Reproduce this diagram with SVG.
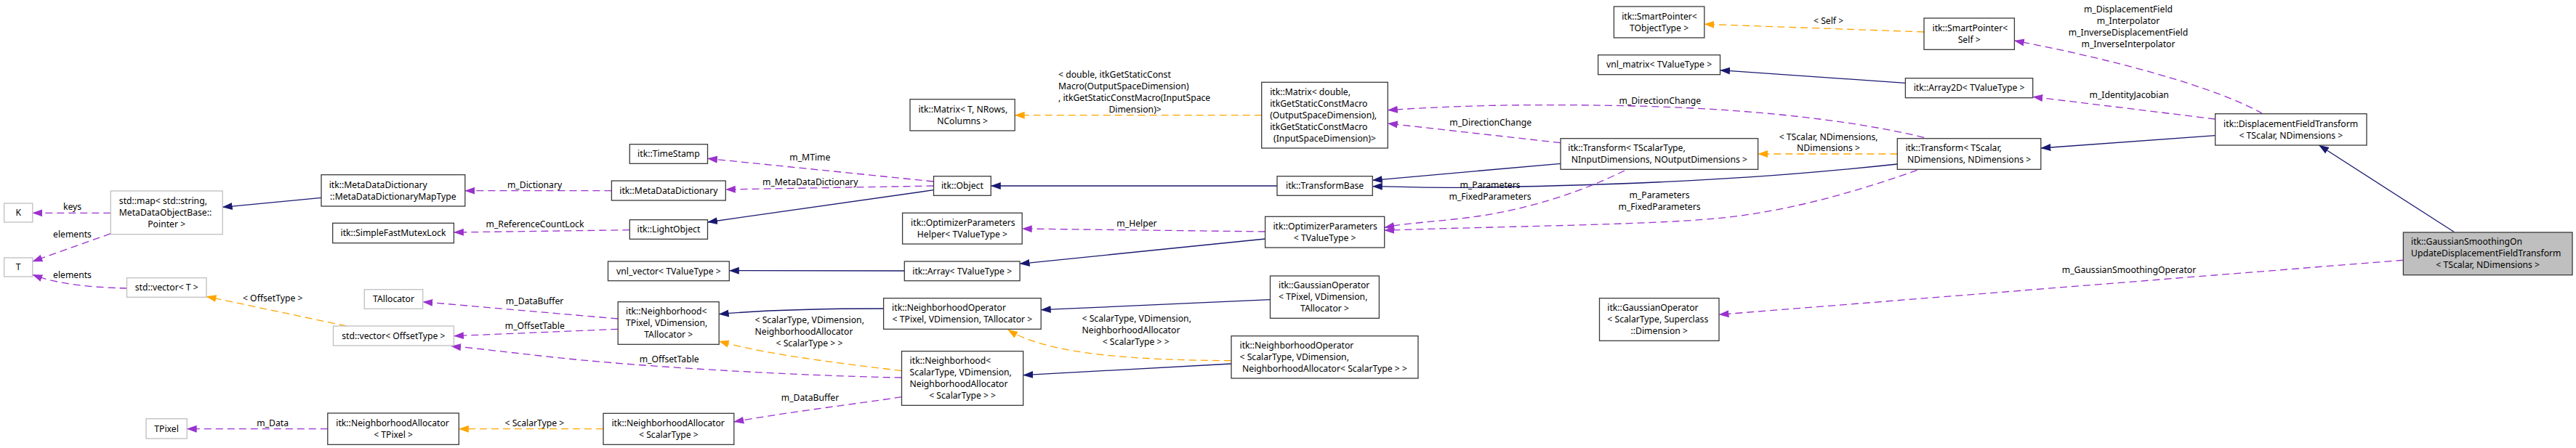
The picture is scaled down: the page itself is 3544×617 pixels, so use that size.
<svg xmlns="http://www.w3.org/2000/svg" width="3544" height="617" viewBox="0 0 3544 617">
<style>
text{font-family:"Noto Sans","Open Sans","DejaVu Sans",sans-serif;font-size:12.2px;fill:#000}
.m{text-anchor:middle}
rect.n{fill:#fff;stroke:#3a3a3a;stroke-width:1.3}
rect.g{fill:#fff;stroke:#bfbfbf;stroke-width:1.3}
rect.main{fill:#bfbfbf;stroke:#3a3a3a;stroke-width:1.3}
path{fill:none;stroke-width:1.3}
.nv{stroke:#191970;marker-end:url(#an)}
.pu{stroke:#9a32cd;stroke-dasharray:10,6;marker-end:url(#ap)}
.or{stroke:#ffa500;stroke-dasharray:10,6;marker-end:url(#ao)}
</style>
<defs>
<marker id="an" markerUnits="userSpaceOnUse" markerWidth="14" markerHeight="11" viewBox="0 0 14 11" refX="13.5" refY="5.5" orient="auto"><path d="M0,0.5 L14,5.5 L0,10.5 z" style="fill:#191970;stroke:none"/></marker>
<marker id="ap" markerUnits="userSpaceOnUse" markerWidth="14" markerHeight="11" viewBox="0 0 14 11" refX="13.5" refY="5.5" orient="auto"><path d="M0,0.5 L14,5.5 L0,10.5 z" style="fill:#9a32cd;stroke:none"/></marker>
<marker id="ao" markerUnits="userSpaceOnUse" markerWidth="14" markerHeight="11" viewBox="0 0 14 11" refX="13.5" refY="5.5" orient="auto"><path d="M0,0.5 L14,5.5 L0,10.5 z" style="fill:#ffa500;stroke:none"/></marker>
</defs>
<rect width="3544" height="617" fill="#fff"/>

<g id="edges">
<path class="nv" d="M442,272.3 L306.2,285.3"/>
<path class="pu" d="M152.3,293.3 L44.8,293.3"/>
<text class="m" x="99.5" y="289.3">keys</text>
<path class="pu" d="M152.3,321.7 L44.8,360"/>
<text class="m" x="99.5" y="327">elements</text>
<path class="pu" d="M174.5,397 C130,396 80,392 44.8,378.3"/>
<text class="m" x="99.5" y="383">elements</text>
<path class="or" d="M476.5,449 L284,408.3"/>
<text class="m" x="375.2" y="415">&lt; OffsetType &gt;</text>
<path class="pu" d="M841.4,262.7 L639.8,262.7"/>
<text class="m" x="735.6" y="259.3">m_Dictionary</text>
<path class="pu" d="M866.3,316.7 L624.4,320"/>
<text class="m" x="736" y="312.6">m_ReferenceCountLock</text>
<path class="pu" d="M850.2,439 L581.7,415.7"/>
<text class="m" x="735.6" y="419.3">m_DataBuffer</text>
<path class="pu" d="M850.2,453.3 L624.4,462.7"/>
<text class="m" x="735.8" y="453.3">m_OffsetTable</text>
<path class="pu" d="M1240.5,520 C1150,519 900,508 743,490 S650,480 620.6,476.7"/>
<text class="m" x="920.7" y="498.6">m_OffsetTable</text>
<path class="or" d="M1240.5,510.7 C1180,503 1060,490 989.2,470"/>
<text x="1038.5" y="445">&lt; ScalarType, VDimension,</text>
<text x="1038.5" y="461">NeighborhoodAllocator</text>
<text class="m" x="1113.5" y="477">&lt; ScalarType &gt; &gt;</text>
<path class="pu" d="M1240.5,546.7 C1180,556 1080,568 1009.8,581"/>
<text class="m" x="1114.5" y="552">m_DataBuffer</text>
<path class="or" d="M830,590.7 L631.3,590.7"/>
<text class="m" x="735.4" y="587">&lt; ScalarType &gt;</text>
<path class="pu" d="M450.8,590.7 L257.2,590.7"/>
<text class="m" x="375.2" y="587">m_Data</text>
<path class="pu" d="M1284.5,250 L973.5,218.3"/>
<text class="m" x="1114.3" y="221">m_MTime</text>
<path class="pu" d="M1284.5,256 L998.3,261"/>
<text class="m" x="1114.7" y="255">m_MetaDataDictionary</text>
<path class="nv" d="M1284.5,261.7 L973.5,306"/>
<path class="or" d="M1735.7,158.7 L1396.2,158.7"/>
<text x="1456" y="107">&lt; double, itkGetStaticConst</text>
<text x="1456" y="123">Macro(OutputSpaceDimension)</text>
<text x="1456" y="139">, itkGetStaticConstMacro(InputSpace</text>
<text class="m" x="1561.6" y="155">Dimension)&gt;</text>
<path class="nv" d="M1757,256 L1363.3,256"/>
<path class="pu" d="M1740.6,319 L1406.2,315"/>
<text class="m" x="1564" y="311.6">m_Helper</text>
<path class="nv" d="M1740.6,329 L1403.1,363.3"/>
<path class="nv" d="M1244.3,373 L1003.3,372.7"/>
<path class="nv" d="M1215.6,425 C1150,425 1050,427 989.2,432.7"/>
<path class="nv" d="M1747.5,412.7 L1432.2,426.7"/>
<path class="or" d="M1694,496.7 C1560,496 1440,488 1386.7,454"/>
<text x="1488.5" y="443">&lt; ScalarType, VDimension,</text>
<text x="1488.5" y="459">NeighborhoodAllocator</text>
<text class="m" x="1562.7" y="475">&lt; ScalarType &gt; &gt;</text>
<path class="nv" d="M1694,501 L1407.7,516.7"/>
<path class="pu" d="M2147,196.7 L1909.3,170"/>
<text class="m" x="2050.7" y="173">m_DirectionChange</text>
<path class="pu" d="M2647,189.3 C2560,168 2420,150 2250,146 S1980,147 1909.3,151.7"/>
<text class="m" x="2283.8" y="143">m_DirectionChange</text>
<path class="nv" d="M2147,225.3 L1888.3,248.3"/>
<path class="nv" d="M2610.3,226 C2480,240 2350,250 2150,255.5 S1950,257 1888.3,256.7"/>
<path class="pu" d="M2235,235 C2180,262 2100,292 2000,302 S1930,309 1904.7,313.3"/>
<text class="m" x="2050" y="259.3">m_Parameters</text>
<text class="m" x="2050" y="275.3">m_FixedParameters</text>
<path class="pu" d="M2637.5,234.3 C2560,262 2460,292 2360,301 S2050,312 1904.7,317.3"/>
<text class="m" x="2283" y="273">m_Parameters</text>
<text class="m" x="2283" y="289">m_FixedParameters</text>
<path class="or" d="M2610.3,212 L2418.6,212"/>
<text class="m" x="2515.6" y="192.6">&lt; TScalar, NDimensions,</text>
<text class="m" x="2515.6" y="208.3">NDimensions &gt;</text>
<path class="or" d="M2647,44 L2344.8,33.3"/>
<text class="m" x="2515.6" y="32.6">&lt; Self &gt;</text>
<path class="nv" d="M2621.4,114.3 L2366.5,96.7"/>
<path class="pu" d="M3112.9,156.7 C3050,120 2900,80 2771.4,56"/>
<text class="m" x="2928" y="17">m_DisplacementField</text>
<text class="m" x="2928" y="33">m_Interpolator</text>
<text class="m" x="2928" y="49">m_InverseDisplacementField</text>
<text class="m" x="2928" y="65">m_InverseInterpolator</text>
<path class="pu" d="M3047.7,164 L2796.7,133.3"/>
<text class="m" x="2929.2" y="135">m_IdentityJacobian</text>
<path class="nv" d="M3047.7,186.7 L2807.8,204"/>
<path class="nv" d="M3376,319.3 L3190.5,200"/>
<path class="pu" d="M3306.4,358.3 L2365,433.3"/>
<text class="m" x="2929" y="376">m_GaussianSmoothingOperator</text>
</g>

<g id="n_K"><rect class="g" x="5.7" y="280" width="39.1" height="26"/><text class="m" x="25.2" y="297.3">K</text></g>
<g id="n_stdmap"><rect class="g" x="152.3" y="263" width="153.9" height="59.7"/><text x="163.8" y="281">std::map&lt; std::string,</text><text x="163.8" y="297">MetaDataObjectBase::</text><text class="m" x="229.2" y="313">Pointer &gt;</text></g>
<g id="n_T"><rect class="g" x="5.7" y="355" width="39.1" height="26"/><text class="m" x="25.2" y="372.3">T</text></g>
<g id="n_vectorT"><rect class="g" x="174.5" y="382.7" width="109.5" height="26.6"/><text class="m" x="229.2" y="400.3">std::vector&lt; T &gt;</text></g>
<g id="n_TPixel"><rect class="g" x="201" y="576.7" width="56.2" height="27.3"/><text class="m" x="229.1" y="594.6">TPixel</text></g>
<g id="n_MDDMap"><rect class="n" x="442" y="240.7" width="197.8" height="43.3"/><text x="452.7" y="259">itk::MetaDataDictionary</text><text class="m" x="540.9" y="275">::MetaDataDictionaryMapType</text></g>
<g id="n_SFML"><rect class="n" x="457.7" y="307.3" width="166.7" height="27.4"/><text class="m" x="541" y="325.3">itk::SimpleFastMutexLock</text></g>
<g id="n_TAllocator"><rect class="g" x="501.3" y="398.7" width="80.4" height="26.6"/><text class="m" x="541.5" y="416.3">TAllocator</text></g>
<g id="n_vectorOffset"><rect class="g" x="458.5" y="449" width="165.9" height="27"/><text class="m" x="541.4" y="467">std::vector&lt; OffsetType &gt;</text></g>
<g id="n_NAllocTPixel"><rect class="n" x="450.8" y="569" width="180.5" height="43.3"/><text x="462.3" y="587">itk::NeighborhoodAllocator</text><text class="m" x="541.05" y="603">&lt; TPixel &gt;</text></g>
<g id="n_TimeStamp"><rect class="n" x="866.3" y="198.7" width="107.2" height="26.6"/><text class="m" x="919.9" y="216.3">itk::TimeStamp</text></g>
<g id="n_MDD"><rect class="n" x="841.4" y="249" width="156.9" height="27"/><text class="m" x="919.85" y="267">itk::MetaDataDictionary</text></g>
<g id="n_LightObject"><rect class="n" x="866.3" y="302.7" width="107.2" height="26.6"/><text class="m" x="919.9" y="320.3">itk::LightObject</text></g>
<g id="n_vnlvector"><rect class="n" x="836.5" y="360" width="166.8" height="26.7"/><text class="m" x="919.9" y="377.6">vnl_vector&lt; TValueType &gt;</text></g>
<g id="n_NbhTPixel"><rect class="n" x="850.2" y="415.7" width="139" height="58.6"/><text x="861" y="433">itk::Neighborhood&lt;</text><text x="861" y="449">TPixel, VDimension,</text><text class="m" x="919.7" y="465">TAllocator &gt;</text></g>
<g id="n_NAllocScalar"><rect class="n" x="830" y="569.3" width="179.8" height="43"/><text x="841.4" y="587">itk::NeighborhoodAllocator</text><text class="m" x="919.9" y="603">&lt; ScalarType &gt;</text></g>
<g id="n_MatrixT"><rect class="n" x="1252" y="136.7" width="144.2" height="43.3"/><text x="1263.4" y="155">itk::Matrix&lt; T, NRows,</text><text class="m" x="1324.1" y="171">NColumns &gt;</text></g>
<g id="n_Object"><rect class="n" x="1284.5" y="242.7" width="78.8" height="26.6"/><text class="m" x="1323.9" y="260.3">itk::Object</text></g>
<g id="n_OPHelper"><rect class="n" x="1241.6" y="293.3" width="164.6" height="42.7"/><text x="1253.1" y="311">itk::OptimizerParameters</text><text class="m" x="1323.9" y="327">Helper&lt; TValueType &gt;</text></g>
<g id="n_Array"><rect class="n" x="1244.3" y="360" width="158.8" height="26.7"/><text class="m" x="1323.7" y="377.6">itk::Array&lt; TValueType &gt;</text></g>
<g id="n_NOpTPixel"><rect class="n" x="1215.6" y="410.7" width="216.6" height="42.6"/><text x="1227.1" y="428.3">itk::NeighborhoodOperator</text><text class="m" x="1323.9" y="444.3">&lt; TPixel, VDimension, TAllocator &gt;</text></g>
<g id="n_NbhScalar"><rect class="n" x="1240.5" y="483.7" width="167.2" height="74.6"/><text x="1251.6" y="501">itk::Neighborhood&lt;</text><text x="1251.6" y="517">ScalarType, VDimension,</text><text x="1251.6" y="533">NeighborhoodAllocator</text><text class="m" x="1324.1" y="549">&lt; ScalarType &gt; &gt;</text></g>
<g id="n_MatrixDouble"><rect class="n" x="1735.7" y="113.3" width="173.6" height="90.7"/><text x="1747.2" y="131">itk::Matrix&lt; double,</text><text x="1747.2" y="147">itkGetStaticConstMacro</text><text x="1747.2" y="163">(OutputSpaceDimension),</text><text x="1747.2" y="179">itkGetStaticConstMacro</text><text class="m" x="1822.5" y="195">(InputSpaceDimension)&gt;</text></g>
<g id="n_TransformBase"><rect class="n" x="1757" y="242.7" width="131.3" height="26.6"/><text class="m" x="1822.65" y="260.3">itk::TransformBase</text></g>
<g id="n_OP"><rect class="n" x="1740.6" y="298.3" width="164.1" height="42.7"/><text x="1751.4" y="316">itk::OptimizerParameters</text><text class="m" x="1822.65" y="332">&lt; TValueType &gt;</text></g>
<g id="n_GOpTPixel"><rect class="n" x="1747.5" y="380" width="149.9" height="58.3"/><text x="1759" y="397">itk::GaussianOperator</text><text x="1759" y="413">&lt; TPixel, VDimension,</text><text class="m" x="1822.5" y="429">TAllocator &gt;</text></g>
<g id="n_NOpScalar"><rect class="n" x="1694" y="462.7" width="257" height="58.3"/><text x="1705.5" y="480">itk::NeighborhoodOperator</text><text x="1705.5" y="496">&lt; ScalarType, VDimension,</text><text class="m" x="1822.5" y="512">NeighborhoodAllocator&lt; ScalarType &gt; &gt;</text></g>
<g id="n_SPTObject"><rect class="n" x="2220.4" y="9" width="124.4" height="43"/><text x="2231.2" y="27">itk::SmartPointer&lt;</text><text class="m" x="2282.6" y="43">TObjectType &gt;</text></g>
<g id="n_vnlmatrix"><rect class="n" x="2198.6" y="75.7" width="167.9" height="27"/><text class="m" x="2282.55" y="93.3">vnl_matrix&lt; TValueType &gt;</text></g>
<g id="n_TransformGen"><rect class="n" x="2147" y="190.7" width="271.6" height="42.6"/><text x="2157.3" y="208.3">itk::Transform&lt; TScalarType,</text><text class="m" x="2282.8" y="224.3">NInputDimensions, NOutputDimensions &gt;</text></g>
<g id="n_GOpScalar"><rect class="n" x="2200.5" y="410.7" width="164.5" height="58.6"/><text x="2211.3" y="428.3">itk::GaussianOperator</text><text x="2211.3" y="444.3">&lt; ScalarType, Superclass</text><text class="m" x="2282.75" y="460.3">::Dimension &gt;</text></g>
<g id="n_SPSelf"><rect class="n" x="2647" y="25" width="124.4" height="43.3"/><text x="2658.5" y="43">itk::SmartPointer&lt;</text><text class="m" x="2709.2" y="59">Self &gt;</text></g>
<g id="n_Array2D"><rect class="n" x="2621.4" y="107.7" width="175.3" height="27"/><text class="m" x="2709.05" y="125.3">itk::Array2D&lt; TValueType &gt;</text></g>
<g id="n_TransformND"><rect class="n" x="2610.3" y="190.7" width="197.5" height="42.6"/><text x="2621.4" y="208.3">itk::Transform&lt; TScalar,</text><text class="m" x="2709.05" y="224.3">NDimensions, NDimensions &gt;</text></g>
<g id="n_DFT"><rect class="n" x="3047.7" y="156.7" width="208.3" height="43.3"/><text x="3059.1" y="175">itk::DisplacementFieldTransform</text><text class="m" x="3151.85" y="191">&lt; TScalar, NDimensions &gt;</text></g>
<g id="n_main"><rect class="main" x="3306.4" y="320" width="232.6" height="58.7"/><text x="3317" y="337">itk::GaussianSmoothingOn</text><text x="3317" y="353">UpdateDisplacementFieldTransform</text><text class="m" x="3422.7" y="369">&lt; TScalar, NDimensions &gt;</text></g>
</svg>
